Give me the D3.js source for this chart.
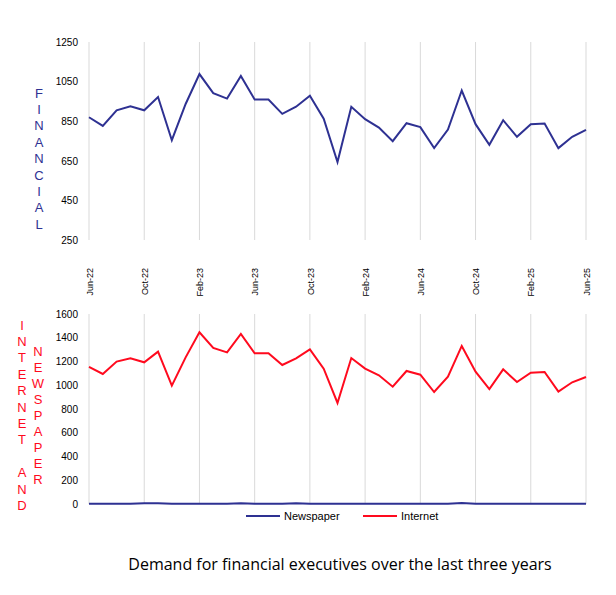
<!DOCTYPE html>
<html>
<head>
<meta charset="utf-8">
<script src="https://cdn.jsdelivr.net/npm/d3@7"></script>
<style>
  body { margin: 0; background: #fff; }
  text { font-family: "Liberation Sans", Arial, sans-serif; }
</style>
</head>
<body>
<div id="chart"></div>
<script>
// monthly data, Jun-22 .. Jun-25
var months = ["Jun-22","Jul-22","Aug-22","Sep-22","Oct-22","Nov-22","Dec-22","Jan-23","Feb-23","Mar-23","Apr-23","May-23",
              "Jun-23","Jul-23","Aug-23","Sep-23","Oct-23","Nov-23","Dec-23","Jan-24","Feb-24","Mar-24","Apr-24","May-24",
              "Jun-24","Jul-24","Aug-24","Sep-24","Oct-24","Nov-24","Dec-24","Jan-25","Feb-25","Mar-25","Apr-25","May-25","Jun-25"];
var financial = [870, 826, 905, 925, 905, 972, 754, 937, 1088, 992, 964, 1078,
                 959, 959, 887, 923, 979, 863, 644, 923, 860, 818, 749, 840,
                 820, 714, 808, 1005, 835, 731, 855, 771, 835, 838, 714, 771, 806];
var internet = [1154, 1095, 1199, 1227, 1193, 1283, 997, 1235, 1446, 1314, 1277, 1432,
                1269, 1269, 1171, 1227, 1302, 1140, 851, 1229, 1140, 1084, 988, 1120,
                1089, 943, 1072, 1331, 1114, 968, 1134, 1027, 1106, 1112, 946, 1025, 1069];
var newspaper = [2, 2, 2, 2, 6, 7, 3, 3, 3, 3, 3, 7,
                 3, 3, 3, 7, 3, 2, 2, 2, 2, 2, 2, 2,
                 2, 2, 2, 8, 3, 2, 2, 2, 2, 2, 2, 2, 2];
var tickMonths = ["Jun-22","Oct-22","Feb-23","Jun-23","Oct-23","Feb-24","Jun-24","Oct-24","Feb-25","Jun-25"];
var finTicks = [250, 450, 650, 850, 1050, 1250];
var botTicks = [0, 200, 400, 600, 800, 1000, 1200, 1400, 1600];

var blue = "#2E3192", red = "#FF0A1E";

var svg = d3.select("#chart").append("svg")
    .attr("width", 616)
    .attr("height", 595);

var x = d3.scalePoint()
    .domain(months)
    .range([89, 586]);

// ---- top: financial
var y1 = d3.scaleLinear().domain([250, 1250]).range([240, 42]);

svg.append("g").selectAll("line")
  .data(tickMonths).enter().append("line")
    .attr("x1", function(d) { return x(d); })
    .attr("x2", function(d) { return x(d); })
    .attr("y1", y1(1250))
    .attr("y2", y1(250))
    .attr("stroke", "#d9d9d9")
    .attr("stroke-width", 1);

var ax1 = svg.append("g")
    .attr("transform", "translate(89,0)")
    .call(d3.axisLeft(y1).tickValues(finTicks).tickFormat(d3.format("d")).tickSize(0).tickPadding(11));
ax1.select(".domain").remove();
ax1.selectAll("text").style("font-size", "10px").attr("fill", "#000");

var xax = svg.append("g")
    .attr("transform", "translate(0,240)")
    .call(d3.axisBottom(x).tickValues(tickMonths).tickSize(0));
xax.select(".domain").remove();
xax.selectAll("text")
    .style("font-size", "9px")
    .attr("fill", "#000")
    .attr("text-anchor", "end")
    .attr("transform", "rotate(-90)")
    .attr("x", -28)
    .attr("y", 0)
    .attr("dy", "0.35em");

svg.append("path")
    .datum(financial)
    .attr("fill", "none")
    .attr("stroke", blue)
    .attr("stroke-width", 2)
    .attr("d", d3.line()
      .x(function(d, i) { return x(months[i]); })
      .y(function(d) { return y1(d); }));

svg.append("g").selectAll("text")
  .data("FINANCIAL".split("")).enter().append("text")
    .attr("x", 39)
    .attr("y", function(d, i) { return 93 + i * 16.4; })
    .attr("dy", "0.35em")
    .attr("text-anchor", "middle")
    .attr("fill", blue)
    .style("font-size", "13px")
    .text(function(d) { return d; });

// ---- bottom: internet and newspaper
var y2 = d3.scaleLinear().domain([0, 1600]).range([504, 314]);

svg.append("g").selectAll("line")
  .data(tickMonths).enter().append("line")
    .attr("x1", function(d) { return x(d); })
    .attr("x2", function(d) { return x(d); })
    .attr("y1", y2(1600))
    .attr("y2", y2(0))
    .attr("stroke", "#d9d9d9")
    .attr("stroke-width", 1);

var ax2 = svg.append("g")
    .attr("transform", "translate(89,0)")
    .call(d3.axisLeft(y2).tickValues(botTicks).tickFormat(d3.format("d")).tickSize(0).tickPadding(11));
ax2.select(".domain").remove();
ax2.selectAll("text").style("font-size", "10px").attr("fill", "#000");

var line2 = d3.line()
    .x(function(d, i) { return x(months[i]); })
    .y(function(d) { return y2(d); });

svg.append("path")
    .datum(internet)
    .attr("fill", "none")
    .attr("stroke", red)
    .attr("stroke-width", 2)
    .attr("d", line2);

svg.append("path")
    .datum(newspaper)
    .attr("fill", "none")
    .attr("stroke", blue)
    .attr("stroke-width", 2)
    .attr("d", line2);

var leftA = "INTERNET AND".split("");
svg.append("g").selectAll("text")
  .data(leftA).enter().append("text")
    .attr("x", 22)
    .attr("y", function(d, i) { return 325 + i * 16.4; })
    .attr("dy", "0.35em")
    .attr("text-anchor", "middle")
    .attr("fill", red)
    .style("font-size", "13px")
    .text(function(d) { return d; });

svg.append("g").selectAll("text")
  .data("NEWSPAPER".split("")).enter().append("text")
    .attr("x", 38)
    .attr("y", function(d, i) { return 351 + i * 16.1; })
    .attr("dy", "0.35em")
    .attr("text-anchor", "middle")
    .attr("fill", red)
    .style("font-size", "13px")
    .text(function(d) { return d; });

// legend
var legend = [{name: "Newspaper", color: blue, x: 246}, {name: "Internet", color: red, x: 363}];
var lg = svg.append("g").selectAll("g")
  .data(legend).enter().append("g")
    .attr("transform", function(d) { return "translate(" + d.x + ",516)"; });
lg.append("line")
    .attr("x1", 0).attr("x2", 34)
    .attr("stroke", function(d) { return d.color; })
    .attr("stroke-width", 2);
lg.append("text")
    .attr("x", 38)
    .attr("dy", "0.35em")
    .style("font-size", "11px")
    .attr("fill", "#000")
    .text(function(d) { return d.name; });

// title
svg.append("text")
    .attr("x", 340)
    .attr("y", 564)
    .attr("dy", "0.35em")
    .attr("text-anchor", "middle")
    .style("font-family", "'Open Sans', sans-serif")
    .style("font-size", "16px")
    .attr("fill", "#000")
    .text("Demand for financial executives over the last three years");
</script>
</body>
</html>
